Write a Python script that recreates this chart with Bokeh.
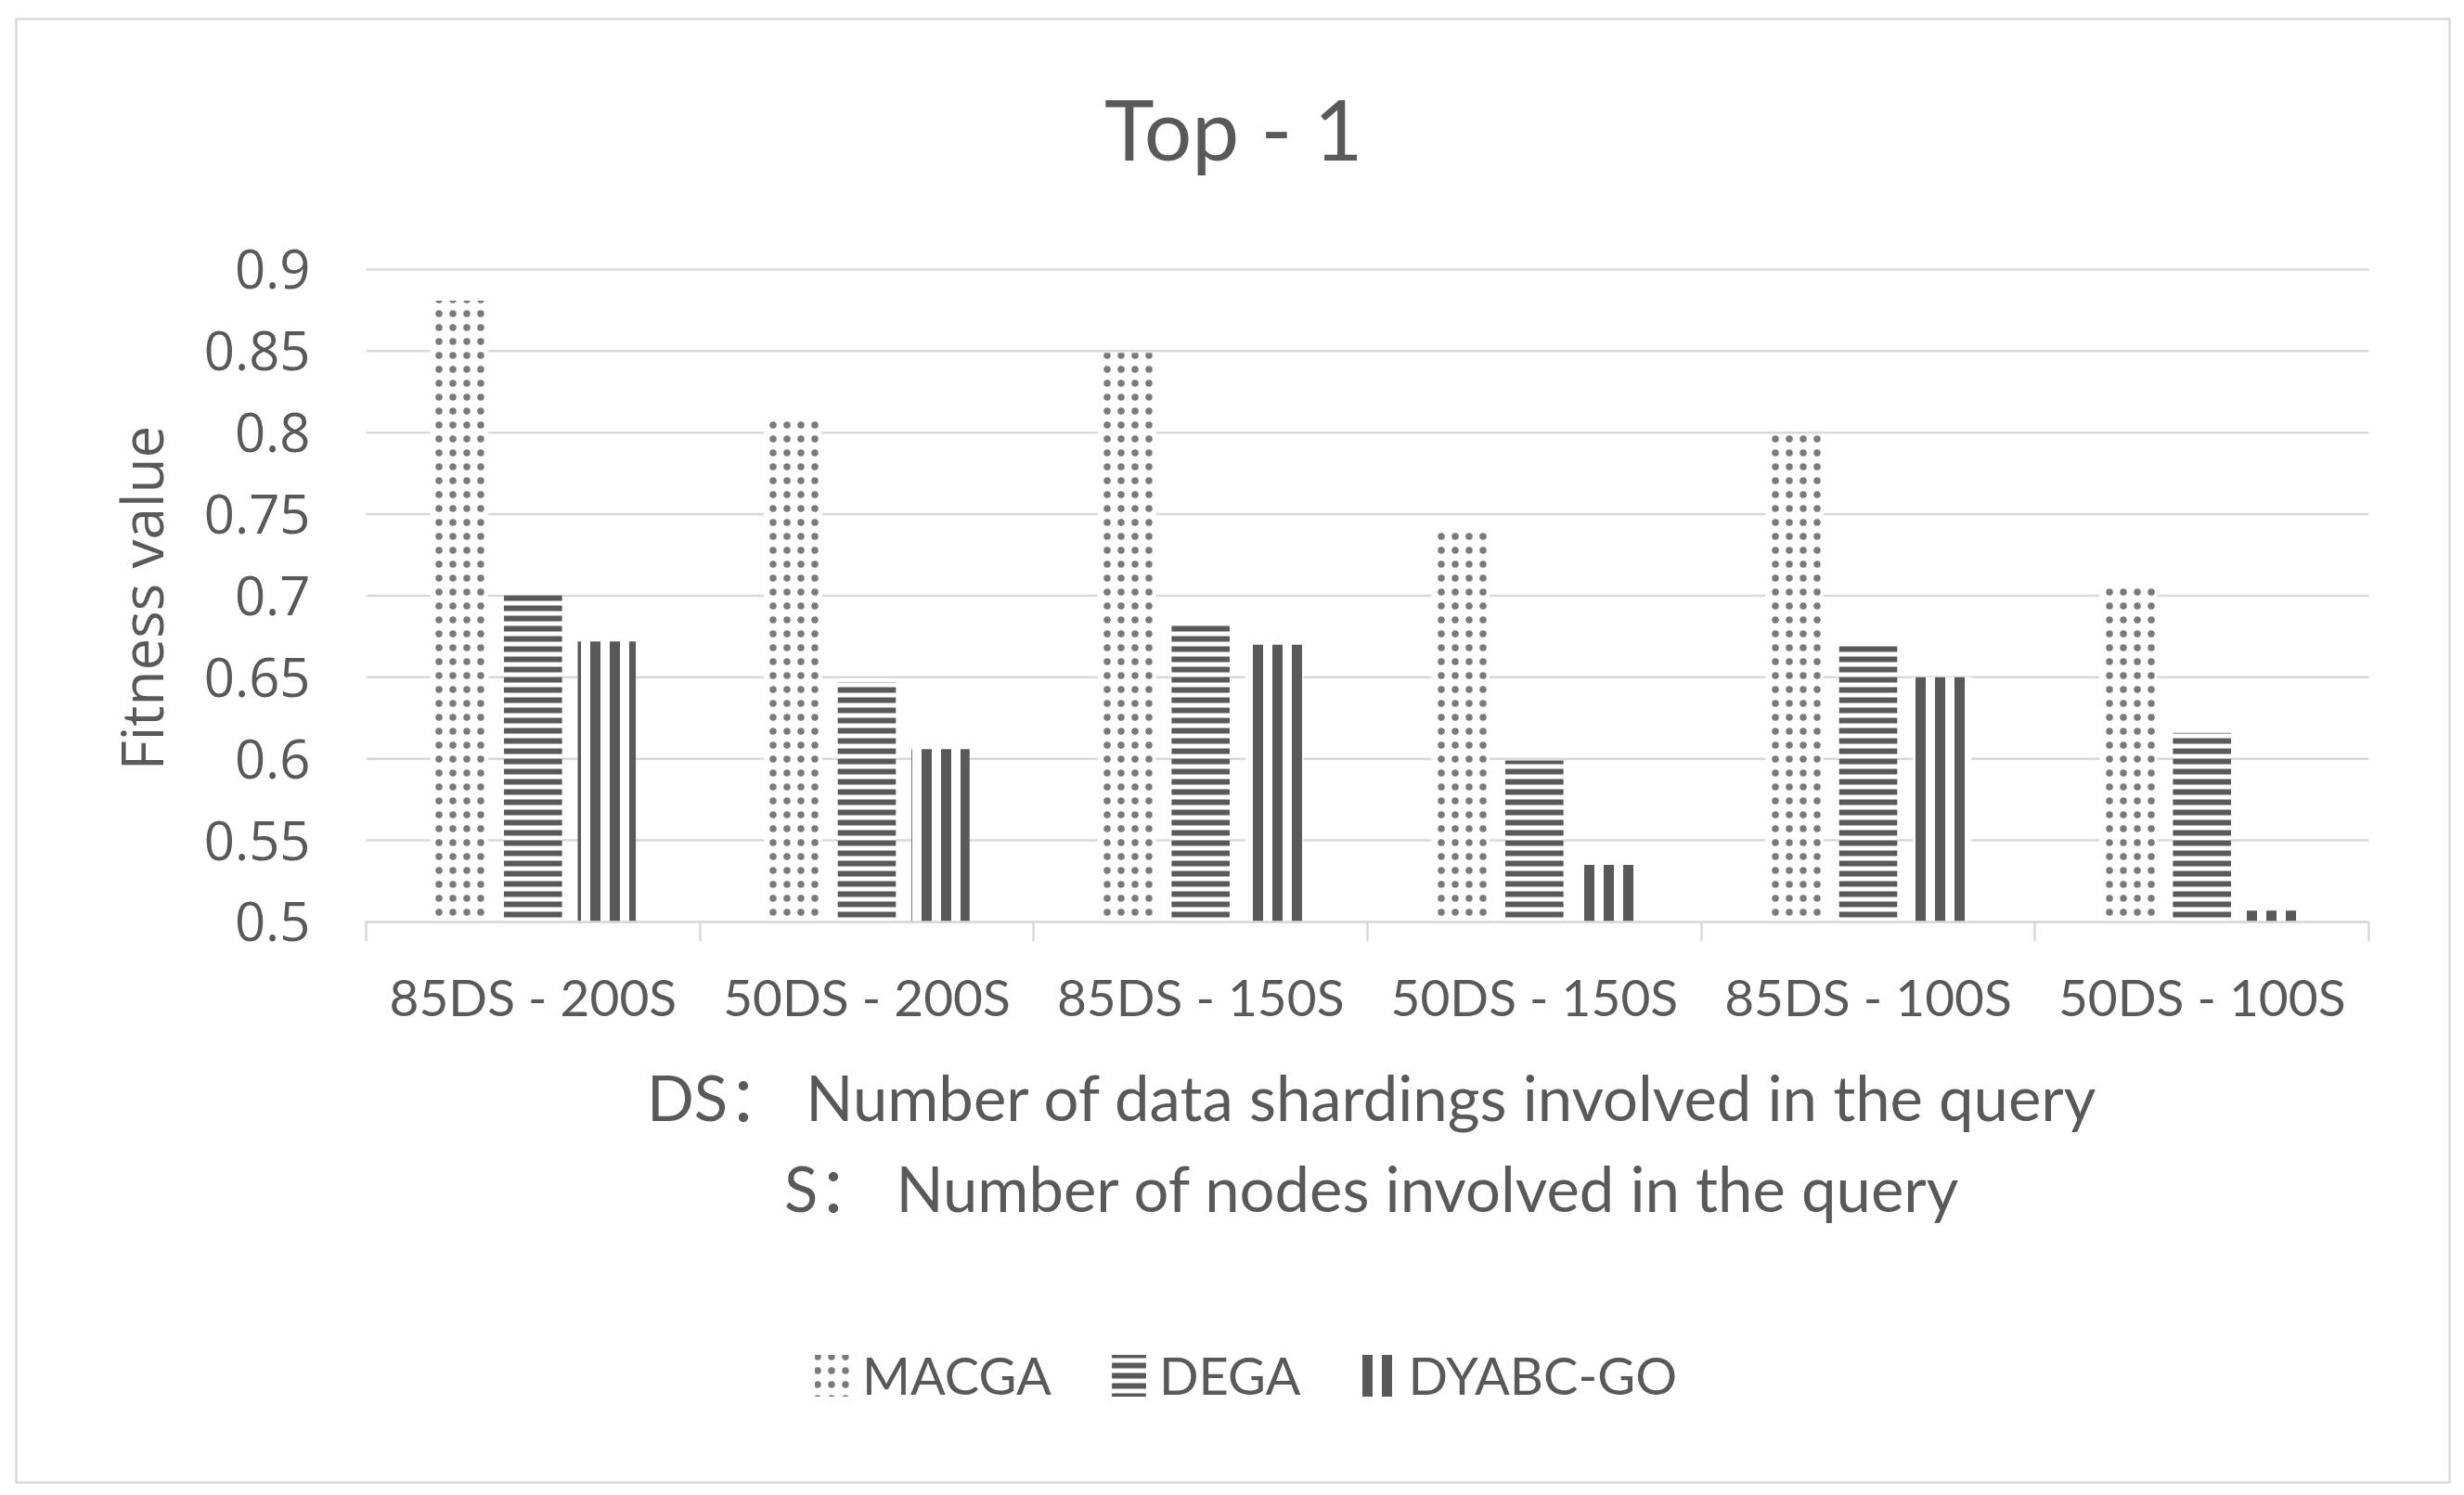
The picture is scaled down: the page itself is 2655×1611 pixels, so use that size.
import math
from bokeh.plotting import figure
from bokeh.models import (ColumnDataSource, FixedTicker, Range1d, Label, Legend, LegendItem)
from bokeh.transform import dodge
from bokeh.embed import file_html
from bokeh.resources import INLINE

# ---------------- data ----------------
categories = ["85DS - 200S", "50DS - 200S", "85DS - 150S",
              "50DS - 150S", "85DS - 100S", "50DS - 100S"]
series_names = ["MACGA", "DEGA", "DYABC-GO"]
macga = [0.881, 0.807, 0.849, 0.741, 0.799, 0.708]
dega = [0.702, 0.647, 0.684, 0.599, 0.671, 0.616]
dyabc = [0.672, 0.606, 0.670, 0.535, 0.650, 0.507]
y_ticks = [0.5, 0.55, 0.6, 0.65, 0.7, 0.75, 0.8, 0.85, 0.9]
y_tick_labels = ["0.5", "0.55", "0.6", "0.65", "0.7", "0.75", "0.8", "0.85", "0.9"]
title_text = "Top - 1"
y_title = "Fitness value"
x_title_lines = ["DS\uff1a Number of data shardings involved in the query",
                 "S\uff1a Number of nodes involved in the query"]

# ---------------- styling ----------------
TXT = "#595959"
GRID = "#d9d9d9"
PAT = "#595959"
CAT_FONT = "Lato, 'Noto Sans CJK SC'"
NUM_FONT = "Open Sans"
N = len(categories)

xc = [i + 0.5 for i in range(N)]
src = ColumnDataSource(dict(xc=xc, cat=categories, macga=macga, dega=dega, dyabc=dyabc))
grid_src = ColumnDataSource(dict(y=y_ticks, x0=[0] * len(y_ticks), x1=[N] * len(y_ticks)))

# the frame is the whole bordered chart area; the value area sits inside it
p = figure(width=2642, height=1600,
           x_range=Range1d(-1.04818, 6.24184),
           y_range=Range1d(0.15633, 1.053627),
           output_backend="svg", toolbar_location=None,
           min_border_left=17, min_border_right=3,
           min_border_top=20, min_border_bottom=3)
p.outline_line_color = GRID
p.outline_line_width = 2.5
p.background_fill_color = "white"
p.border_fill_color = "white"
p.xgrid.visible = False
p.ygrid.visible = False

# horizontal gridlines at the y ticks
p.segment(x0="x0", x1="x1", y0="y", y1="y", source=grid_src,
          line_color=GRID, line_width=2.5)

BW = 0.174
OFF = 0.221
r1 = p.vbar(x=dodge("xc", -OFF, range=p.x_range), top="macga", bottom=y_ticks[0], width=BW,
            source=src, fill_color="white", line_color=None,
            hatch_pattern="dot", hatch_color=PAT, hatch_scale=15, hatch_alpha=0.8)
r2 = p.vbar(x=dodge("xc", 0.0, range=p.x_range), top="dega", bottom=y_ticks[0], width=BW,
            source=src, fill_color="white", line_color=None,
            hatch_pattern="horizontal_line", hatch_color=PAT, hatch_scale=11, hatch_weight=6)
r3 = p.vbar(x=dodge("xc", OFF, range=p.x_range), top="dyabc", bottom=y_ticks[0], width=BW,
            source=src, fill_color="white", line_color=None,
            hatch_pattern="vertical_line", hatch_color=PAT, hatch_scale=21, hatch_weight=11)

# x axis (category axis at y = 0.5)
xa = p.xaxis[0]
xa.fixed_location = y_ticks[0]
xa.bounds = (0, N)
xa.ticker = FixedTicker(ticks=xc, minor_ticks=list(range(N + 1)))
xa.major_label_overrides = {x: c for x, c in zip(xc, categories)}
xa.axis_line_color = GRID
xa.axis_line_width = 2.5
xa.major_tick_line_color = None
xa.major_tick_out = 0
xa.major_tick_in = 0
xa.minor_tick_line_color = GRID
xa.minor_tick_line_width = 2.5
xa.minor_tick_out = 21
xa.minor_tick_in = 0
xa.major_label_standoff = 27
xa.major_label_text_font = CAT_FONT
xa.major_label_text_font_size = "55px"
xa.major_label_text_color = TXT

# y axis (value axis at x = 0)
ya = p.yaxis[0]
ya.fixed_location = 0
ya.bounds = (y_ticks[0], y_ticks[-1])
ya.ticker = FixedTicker(ticks=y_ticks)
ya.major_label_overrides = {t: l for t, l in zip(y_ticks, y_tick_labels)}
ya.axis_line_color = None
ya.major_tick_line_color = None
ya.minor_tick_line_color = None
ya.major_tick_out = 0
ya.major_tick_in = 0
ya.major_label_standoff = 60
ya.major_label_text_font = NUM_FONT
ya.major_label_text_font_size = "58px"
ya.major_label_text_color = TXT

# texts
p.add_layout(Label(x=2.599, y=0.987, text=title_text, text_align="center",
                   text_baseline="alphabetic", text_font=CAT_FONT,
                   text_font_size="91px", text_color=TXT))
p.add_layout(Label(x=-0.675, y=0.6986, angle=math.pi / 2, text=y_title,
                   text_align="center", text_baseline="alphabetic",
                   text_font=NUM_FONT, text_font_size="62px", text_color=TXT))
for txt, yy in zip(x_title_lines, [0.393, 0.337]):
    p.add_layout(Label(x=3.015, y=yy, text=txt, text_align="center",
                       text_baseline="alphabetic", text_font=CAT_FONT,
                       text_font_size="67px", text_color=TXT))

legend = Legend(items=[LegendItem(label=series_names[0], renderers=[r1]),
                       LegendItem(label=series_names[1], renderers=[r2]),
                       LegendItem(label=series_names[2], renderers=[r3])],
                orientation="horizontal", location=(856, 82))
legend.label_text_font = CAT_FONT
legend.label_text_font_size = "56px"
legend.label_text_color = TXT
legend.glyph_width = 46
legend.glyph_height = 56
legend.label_standoff = 10
legend.spacing = 60
legend.padding = 0
legend.margin = 0
legend.border_line_color = None
legend.background_fill_alpha = 0
p.add_layout(legend)

open("out.html", "w").write(file_html(p, INLINE))
